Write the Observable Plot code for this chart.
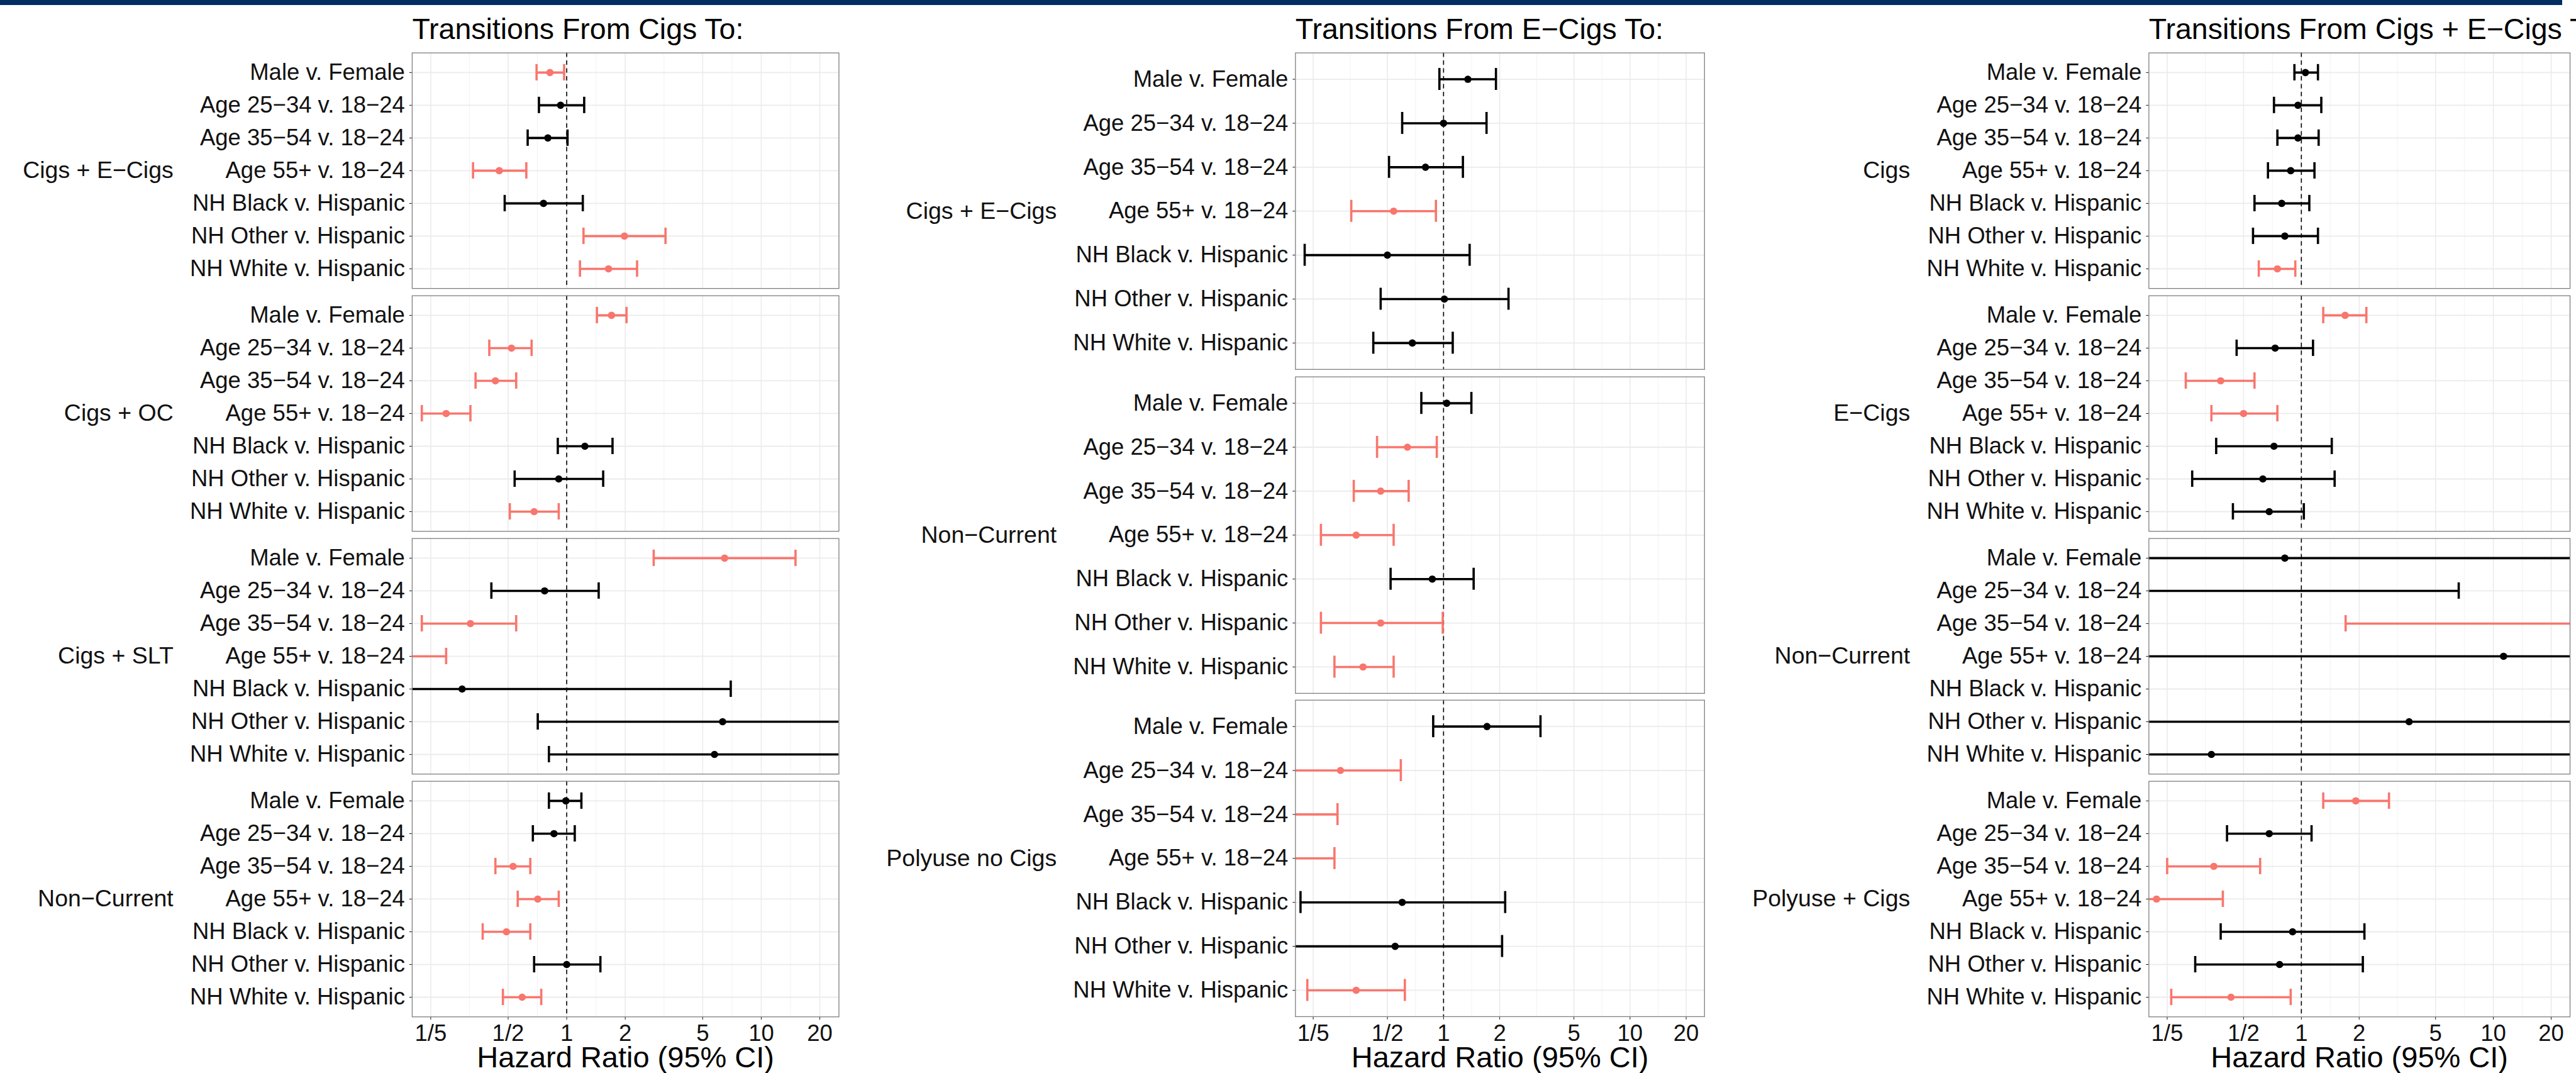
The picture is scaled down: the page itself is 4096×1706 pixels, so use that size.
<!DOCTYPE html>
<html><head><meta charset="utf-8">
<script src="https://cdn.jsdelivr.net/npm/d3@7"></script>
<script src="https://cdn.jsdelivr.net/npm/@observablehq/plot@0.6"></script>
<style>
html,body{margin:0;padding:0;background:#fff;overflow:hidden;}
#root{position:relative;width:4096px;height:1706px;overflow:hidden;background:#fff;}
#root svg{position:absolute;overflow:visible;}
#bar{position:absolute;left:0;top:0;width:4074px;height:8px;background:#022d62;}
</style></head><body><div id="root"><div id="bar"></div></div>
<script>
// ---------- data ----------
const comparisons = ["Male v. Female", "Age 25\u221234 v. 18\u221224", "Age 35\u221254 v. 18\u221224", "Age 55+ v. 18\u221224",
  "NH Black v. Hispanic", "NH Other v. Hispanic", "NH White v. Hispanic"];
const panelTitles = ["Transitions From Cigs To:", "Transitions From E\u2212Cigs To:", "Transitions From Cigs + E\u2212Cigs To:"];
const cigsOutcomes = ["Cigs + E\u2212Cigs", "Cigs + OC", "Cigs + SLT", "Non\u2212Current"];
const ecigsOutcomes = ["Cigs + E\u2212Cigs", "Non\u2212Current", "Polyuse no Cigs"];
const dualOutcomes = ["Cigs", "E\u2212Cigs", "Non\u2212Current", "Polyuse + Cigs"];
const xTicks = [0.2, 0.5, 1, 2, 5, 10, 20];
const xTickLabels = ["1/5", "1/2", "1", "2", "5", "10", "20"];
const axisTitle = "Hazard Ratio (95% CI)";

// hazard ratios, lower and upper 95% CI (one row per outcome, in comparison order)
const cigsHR = [[0.82, 0.93, 0.80, 0.45, 0.76, 1.98, 1.64],
                [1.70, 0.52, 0.43, 0.24, 1.24, 0.91, 0.68],
                [6.48, 0.77, 0.32, 0.12, 0.29, 6.33, 5.75],
                [0.99, 0.86, 0.53, 0.71, 0.49, 1.00, 0.59]];
const cigsLo = [[0.70, 0.72, 0.63, 0.33, 0.48, 1.22, 1.17],
                [1.43, 0.40, 0.34, 0.18, 0.90, 0.54, 0.51],
                [2.80, 0.41, 0.18, 0.06, 0.06, 0.71, 0.81],
                [0.81, 0.67, 0.43, 0.56, 0.37, 0.68, 0.47]];
const cigsHi = [[0.97, 1.23, 1.01, 0.62, 1.21, 3.22, 2.30],
                [2.03, 0.66, 0.55, 0.32, 1.72, 1.54, 0.91],
                [15.0, 1.46, 0.55, 0.24, 6.97, 60, 60],
                [1.19, 1.10, 0.65, 0.91, 0.65, 1.49, 0.74]];

const ecigsHR = [[1.35, 1.00, 0.80, 0.54, 0.50, 1.01, 0.68],
                 [1.04, 0.64, 0.46, 0.34, 0.87, 0.46, 0.37],
                 [1.71, 0.28, 0.12, 0.11, 0.60, 0.55, 0.34]];
const ecigsLo = [[0.95, 0.60, 0.51, 0.32, 0.18, 0.46, 0.42],
                 [0.76, 0.44, 0.33, 0.22, 0.52, 0.22, 0.26],
                 [0.88, 0.07, 0.03, 0.03, 0.171, 0.08, 0.186]];
const ecigsHi = [[1.91, 1.70, 1.27, 0.91, 1.38, 2.23, 1.12],
                 [1.41, 0.92, 0.65, 0.54, 1.45, 0.99, 0.54],
                 [3.31, 0.59, 0.27, 0.26, 2.14, 2.06, 0.62]];

const dualHR = [[1.05, 0.96, 0.96, 0.88, 0.79, 0.82, 0.75],
                [1.69, 0.73, 0.38, 0.50, 0.72, 0.63, 0.68],
                [0.82, 0.12, 40, 11.3, null, 3.64, 0.34],
                [1.92, 0.68, 0.35, 0.176, 0.90, 0.77, 0.43]];
const dualLo = [[0.92, 0.72, 0.75, 0.67, 0.57, 0.56, 0.60],
                [1.30, 0.46, 0.25, 0.34, 0.36, 0.27, 0.44],
                [0.05, 0.03, 1.70, 0.05, null, 0.05, 0.05],
                [1.30, 0.41, 0.20, 0.10, 0.38, 0.28, 0.21]];
const dualHi = [[1.22, 1.27, 1.23, 1.17, 1.10, 1.22, 0.93],
                [2.18, 1.15, 0.57, 0.75, 1.44, 1.49, 1.03],
                [60, 6.60, 200, 200, null, 200, 200],
                [2.86, 1.13, 0.61, 0.39, 2.13, 2.09, 0.88]];

// ---------- layout ----------
const S = 0.74;
const FONT = '"Liberation Sans", Arial, Helvetica, sans-serif';
const RED = "#F8766D";
const xDomain = [0.1606, 25.08];
const minorBreaks = d3.pairs(xTicks, (a, b) => Math.sqrt(a * b));
const FTOP = 113, FBOT = 2184, GAP = 15.5;

const panels = [
  {title: panelTitles[0], outcomes: cigsOutcomes, hr: cigsHR, lo: cigsLo, hi: cigsHi, left: 885, right: 1802, svgLeft: 0, svgRight: 1808},
  {title: panelTitles[1], outcomes: ecigsOutcomes, hr: ecigsHR, lo: ecigsLo, hi: ecigsHi, left: 2783, right: 3662, svgLeft: 1815, svgRight: 3668},
  {title: panelTitles[2], outcomes: dualOutcomes, hr: dualHR, lo: dualLo, hi: dualHi, left: 4616, right: 5521, svgLeft: 3675, svgRight: 5534}
];

const root = document.getElementById("root");
const inDomain = v => v >= xDomain[0] && v <= xDomain[1];

for (const p of panels) {
  const n = p.outcomes.length;
  const fh = (FBOT - FTOP - GAP * (n - 1)) / n;
  for (let k = 0; k < n; k++) {
    const top = FTOP + k * (fh + GAP), bottom = top + fh;
    const isFirst = k === 0, isLast = k === n - 1;
    const svgTop = isFirst ? 0 : top - 5;
    const svgBottom = isLast ? 2305 : bottom + 5;
    const rows = comparisons.map((c, i) => ({idx: i, hr: p.hr[k][i], lo: p.lo[k][i], hi: p.hi[k][i]}))
      .filter(d => d.hr != null);
    rows.forEach(d => d.color = (d.lo > 1 || d.hi < 1) ? RED : "#000");
    const caps = rows.flatMap(d => [{idx: d.idx, v: d.lo, color: d.color}, {idx: d.idx, v: d.hi, color: d.color}])
      .filter(d => inDomain(d.v));
    const pts = rows.filter(d => inDomain(d.hr));

    const titleSize = 46.5, stripSize = 37.5, axisTitleSize = 47;
    const marks = [
      Plot.ruleX(minorBreaks, {stroke: "#f1f1f1", strokeWidth: 0.9}),
      Plot.ruleX(xTicks, {stroke: "#ebebeb", strokeWidth: 1.6}),
      Plot.ruleY(d3.range(comparisons.length), {stroke: "#ebebeb", strokeWidth: 1.8}),
      Plot.ruleX([1], {stroke: "#000", strokeWidth: 1.6, strokeDasharray: "7,5.5"}),
      Plot.ruleY(rows, {y: "idx", x1: "lo", x2: "hi", stroke: "color", strokeWidth: 3.6}),
      Plot.ruleX(caps, {x: "v", y1: d => d.idx - 0.25, y2: d => d.idx + 0.25, stroke: "color", strokeWidth: 3.6}),
      Plot.dot(pts, {x: "hr", y: "idx", r: 5.8, fill: "color", stroke: null}),
      Plot.frame({stroke: "#7f7f7f", strokeWidth: 1.3}),
      Plot.text([p.outcomes[k]], {text: d => d, frameAnchor: "left", lineAnchor: "middle", dx: -513 * S, textAnchor: "end",
        fontSize: stripSize, fill: "#111"})
    ];
    if (isFirst) marks.push(Plot.text([p.title], {text: d => d, frameAnchor: "top-left", lineAnchor: "middle", textAnchor: "start",
      dy: (82.6 * S - 0.32 * titleSize) - top * S, fontSize: titleSize, fill: "#000"}));
    if (isLast) marks.push(Plot.text([axisTitle], {text: d => d, frameAnchor: "bottom", lineAnchor: "middle",
      dy: (2293 * S - 0.32 * axisTitleSize) - bottom * S, fontSize: axisTitleSize, fill: "#000"}));

    const svg = Plot.plot({
      width: (p.svgRight - p.svgLeft) * S,
      height: (svgBottom - svgTop) * S,
      marginLeft: (p.left - p.svgLeft) * S,
      marginRight: (p.svgRight - p.right) * S,
      marginTop: (top - svgTop) * S,
      marginBottom: (svgBottom - bottom) * S,
      style: {fontFamily: FONT, fontSize: "36.5px", color: "#111", background: "transparent", overflow: "visible"},
      x: {type: "log", domain: xDomain, clamp: true, ticks: xTicks,
          tickFormat: v => xTickLabels[xTicks.indexOf(v)] ?? "", tickSize: isLast ? 5 : 0, tickPadding: 7.5,
          label: null, axis: isLast ? "bottom" : null},
      y: {type: "linear", domain: [-0.6, 6.6], reverse: true, ticks: d3.range(comparisons.length),
          tickFormat: i => comparisons[i], tickSize: 4, tickPadding: 7.5, label: null},
      color: {type: "identity"},
      marks
    });
    svg.style.left = (p.svgLeft * S) + "px";
    svg.style.top = (svgTop * S) + "px";
    root.appendChild(svg);
  }
}
</script>
</body></html>
